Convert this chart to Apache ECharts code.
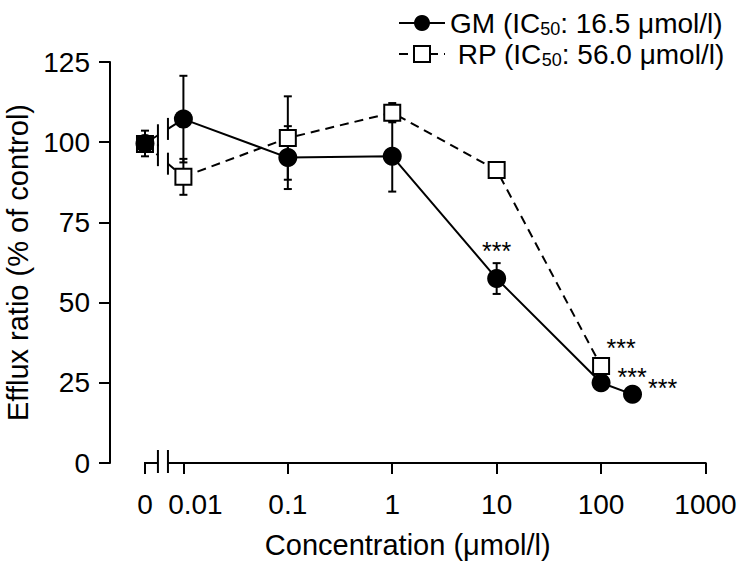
<!DOCTYPE html>
<html><head><meta charset="utf-8">
<script src="https://cdn.jsdelivr.net/npm/echarts@6/dist/echarts.min.js"></script>
<style>html,body{margin:0;padding:0;background:#fff}#chart{width:738px;height:572px}</style>
</head><body><div id="chart"></div>
<script>
// ---- data ----
const concTickLabels = ['0', '0.01', '0.1', '1', '10', '100', '1000'];
const concTickValues = [0, 0.01, 0.1, 1, 10, 100, 1000];
const yTickValues = [0, 25, 50, 75, 100, 125];
const gmConc = [0, 0.01, 0.1, 1, 10, 100, 200];
const gmMean = [99.6, 107.2, 95.2, 95.6, 57.5, 25.0, 21.4];
const gmSd   = [4.0, 13.5, 9.8, 11.0, 4.8, 1.0, 1.0];
const gmSig  = ['', '', '', '', '***', '***', '***'];
const rpConc = [0, 0.01, 0.1, 1, 10, 100];
const rpMean = [99.4, 89.2, 101.3, 109.2, 91.3, 30.2];
const rpSd   = [2.0, 5.6, 13.0, 3.0, 1.0, 1.0];
const rpSig  = ['', '', '', '', '', '***'];
const gmName = 'GM', rpName = 'RP';
const gmIC50 = '16.5', rpIC50 = '56.0';

// ---- axis layout (log10 scale with a break before 0.01) ----
const X_MIN = -2.703, X_MAX = 3;
const ZERO_POS = -2.368, GAP_A = -2.244, GAP_B = -2.148;
function pos(c) { return c === 0 ? ZERO_POS : Math.log10(c); }
const tickPos = concTickValues.map(pos);

const FONT = "'Liberation Sans', Arial, Helvetica, sans-serif";
const starOffsets = { gm: { 4: [0, -31], 5: [31, -9], 6: [30, -9] }, rp: { 5: [20, -21] } };
const STAR_DY = 3;

function lineData(conc, mean, sig, offs) {
  const out = [];
  for (let i = 1; i < conc.length; i++) {
    const item = { value: [pos(conc[i]), mean[i]] };
    if (sig[i]) {
      const o = offs[i] || [0, 0];
      item.label = { show: true, formatter: sig[i], position: 'inside', offset: [o[0], o[1] + STAR_DY],
        color: '#000', fontSize: 25, lineHeight: 14, fontFamily: FONT, align: 'center', verticalAlign: 'middle' };
    }
    out.push(item);
  }
  return out;
}
function errData(conc, mean, sd) {
  return conc.map((c, i) => [pos(c), mean[i], mean[i] - sd[i], mean[i] + sd[i]]);
}

function renderErr(params, api) {
  const x = api.value(0);
  const lo = api.coord([x, api.value(2)]);
  const hi = api.coord([x, api.value(3)]);
  const w = 4;
  const st = { stroke: '#000', lineWidth: 2 };
  return { type: 'group', children: [
    { type: 'line', shape: { x1: lo[0], y1: lo[1], x2: hi[0], y2: hi[1] }, style: st },
    { type: 'line', shape: { x1: lo[0] - w, y1: lo[1], x2: lo[0] + w, y2: lo[1] }, style: st },
    { type: 'line', shape: { x1: hi[0] - w, y1: hi[1], x2: hi[0] + w, y2: hi[1] }, style: st }
  ]};
}
function makeBreakRenderer(dash) {
  return function (params, api) {
    const p0 = api.coord([api.value(0), api.value(1)]);
    const p1 = api.coord([api.value(2), api.value(3)]);
    const ga = api.coord([GAP_A, 0])[0], gb = api.coord([GAP_B, 0])[0];
    const yAt = x => p0[1] + (p1[1] - p0[1]) * (x - p0[0]) / (p1[0] - p0[0]);
    const ya = yAt(ga), yb = yAt(gb);
    const st = { stroke: '#000', lineWidth: 2, lineDash: dash };
    const sm = { stroke: '#000', lineWidth: 2 };
    const h = 11;
    return { type: 'group', children: [
      { type: 'line', shape: { x1: p0[0], y1: p0[1], x2: ga, y2: ya }, style: st },
      { type: 'line', shape: { x1: gb, y1: yb, x2: p1[0], y2: p1[1] }, style: st },
      { type: 'line', shape: { x1: ga, y1: ya - h, x2: ga, y2: ya + h }, style: sm },
      { type: 'line', shape: { x1: gb, y1: yb - h, x2: gb, y2: yb + h }, style: sm }
    ]};
  };
}
function renderXAxisLine(params, api) {
  const z = api.coord([ZERO_POS, 0]);
  const a = api.coord([GAP_A, 0]);
  const b = api.coord([GAP_B, 0]);
  const e = api.coord([X_MAX, 0]);
  const st = { stroke: '#000', lineWidth: 2 };
  return { type: 'group', children: [
    { type: 'line', shape: { x1: z[0] - 1, y1: z[1], x2: a[0], y2: a[1] }, style: st },
    { type: 'line', shape: { x1: b[0], y1: b[1], x2: e[0] + 1, y2: e[1] }, style: st },
    { type: 'line', shape: { x1: a[0], y1: a[1] - 13, x2: a[0], y2: a[1] + 10 }, style: st },
    { type: 'line', shape: { x1: b[0], y1: b[1] - 13, x2: b[0], y2: b[1] + 10 }, style: st }
  ]};
}

const chart = echarts.init(document.getElementById('chart'), null, { renderer: 'svg' });
chart.setOption({
  backgroundColor: '#fff',
  animation: false,
  textStyle: { fontFamily: FONT, color: '#000' },
  grid: { left: 110, right: 32.5, top: 62, bottom: 109, containLabel: false, outerBoundsMode: 'none' },
  legend: {
    orient: 'vertical', left: 393, top: 4, itemWidth: 46, itemHeight: 20, itemGap: 2,
    data: [gmName, rpName],
    formatter: n => n === gmName ? n + ' (IC{sub|50}: ' + gmIC50 + ' μmol/l)' : ' ' + n + ' (IC{sub|50}: ' + rpIC50 + ' μmol/l)',
    textStyle: { fontSize: 28, color: '#000', fontFamily: FONT,
      rich: { sub: { fontSize: 18, fontFamily: FONT, color: '#000', padding: [12, 0, 0, 0] } } }
  },
  xAxis: {
    type: 'value', min: X_MIN, max: X_MAX,
    name: 'Concentration (μmol/l)', nameLocation: 'middle', nameGap: 67,
    nameTextStyle: { fontSize: 29, color: '#000', fontFamily: FONT },
    axisLine: { show: false, onZero: false },
    axisTick: { show: true, customValues: tickPos, length: 11, lineStyle: { color: '#000', width: 2 } },
    axisLabel: { customValues: tickPos, margin: 27, fontSize: 28, color: '#000', fontFamily: FONT,
      formatter: v => {
        const i = tickPos.findIndex(p => Math.abs(p - v) < 1e-6);
        if (i < 0) return '';
        return i === 1 ? '{s|' + concTickLabels[i] + '}' : concTickLabels[i];
      },
      rich: { s: { fontSize: 28, fontFamily: FONT, color: '#000', padding: [0, 0, 0, 24] } } },
    splitLine: { show: false }
  },
  yAxis: {
    type: 'value', min: 0, max: 125, interval: 25,
    name: 'Efflux ratio (% of control)', nameLocation: 'middle', nameGap: 78,
    nameTextStyle: { fontSize: 29, color: '#000', fontFamily: FONT },
    axisLine: { show: true, onZero: false, lineStyle: { color: '#000', width: 2 } },
    axisTick: { show: true, length: 11, lineStyle: { color: '#000', width: 2 } },
    axisLabel: { margin: 20, fontSize: 28, color: '#000', fontFamily: FONT,
      formatter: v => yTickValues.includes(v) ? String(v) : '' },
    splitLine: { show: false }
  },
  series: [
    { type: 'custom', name: 'xaxis', renderItem: renderXAxisLine, data: [[ZERO_POS, 0, X_MAX, 0]],
      encode: { x: [0, 2], y: [1, 3] }, silent: true, z: 1 },
    { type: 'custom', name: 'rpErr', renderItem: renderErr, data: errData(rpConc, rpMean, rpSd),
      encode: { x: 0, y: [2, 3] }, silent: true, z: 2 },
    { type: 'custom', name: 'gmErr', renderItem: renderErr, data: errData(gmConc, gmMean, gmSd),
      encode: { x: 0, y: [2, 3] }, silent: true, z: 2 },
    { type: 'custom', name: 'rpBreak', renderItem: makeBreakRenderer([9, 6]),
      data: [[pos(rpConc[0]), rpMean[0], pos(rpConc[1]), rpMean[1]]], encode: { x: [0, 2], y: [1, 3] }, silent: true, z: 3 },
    { type: 'custom', name: 'gmBreak', renderItem: makeBreakRenderer(null),
      data: [[pos(gmConc[0]), gmMean[0], pos(gmConc[1]), gmMean[1]]], encode: { x: [0, 2], y: [1, 3] }, silent: true, z: 3 },
    { type: 'line', name: rpName, data: lineData(rpConc, rpMean, rpSig, starOffsets.rp),
      lineStyle: { color: '#000', width: 2, type: [9, 6] },
      symbol: 'rect', symbolSize: 16,
      itemStyle: { color: '#fff', borderColor: '#000', borderWidth: 2 }, z: 4 },
    { type: 'line', name: gmName, data: lineData(gmConc, gmMean, gmSig, starOffsets.gm),
      lineStyle: { color: '#000', width: 2 },
      symbol: 'circle', symbolSize: 19,
      itemStyle: { color: '#000', borderColor: '#000', borderWidth: 0 }, z: 5 },
    { type: 'scatter', name: rpName, data: [[pos(rpConc[0]), rpMean[0]]], symbol: 'rect', symbolSize: 16,
      itemStyle: { color: '#fff', borderColor: '#000', borderWidth: 2, opacity: 1 }, z: 4 },
    { type: 'scatter', name: gmName, data: [[pos(gmConc[0]), gmMean[0]]], symbol: 'circle', symbolSize: 19,
      itemStyle: { color: '#000', opacity: 1 }, z: 5 }
  ]
});
</script></body></html>
